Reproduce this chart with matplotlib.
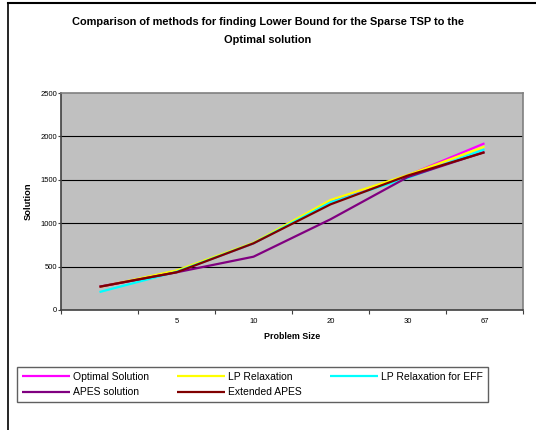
import numpy as np
import matplotlib
matplotlib.use("Agg")
import matplotlib.pyplot as plt
from matplotlib.lines import Line2D

plt.rcParams['font.family'] = ['Liberation Sans', 'DejaVu Sans']

# data
sizes = ["", "5", "10", "20", "30", "67"]
optimal = [268, 440, 768, 1250, 1550, 1920]
lp_relax = [265, 455, 775, 1267, 1555, 1882]
lp_eff = [207, 440, 768, 1240, 1520, 1851]
apes = [268, 434, 614, 1045, 1530, 1820]
ext_apes = [268, 434, 768, 1217, 1548, 1816]

series = [
    ("Optimal Solution", optimal, "#FF00FF"),
    ("LP Relaxation", lp_relax, "#FFFF00"),
    ("LP Relaxation for EFF", lp_eff, "#00FFFF"),
    ("APES solution", apes, "#800080"),
    ("Extended APES", ext_apes, "#800000"),
]

W, H = 536, 430
fig = plt.figure(figsize=(W / 100, H / 100), dpi=100)
ax = fig.add_axes([61 / W, (H - 310) / H, 462 / W, 217 / H])
ax.set_facecolor("#C0C0C0")

x = np.arange(len(sizes))
lines = []
for name, vals, col in series:
    ln, = ax.plot(x, vals, color=col, lw=1.6, label=name, solid_capstyle="butt")
    lines.append(ln)

ax.set_xlim(-0.5, len(sizes) - 0.5)
ax.set_ylim(0, 2500)
ax.set_yticks([0, 500, 1000, 1500, 2000, 2500])
ax.set_yticklabels(["0", "500", "1000", "1500", "2000", "2500"], fontsize=5.5)
for yv in [500, 1000, 1500, 2000]:
    ax.axhline(yv, color="black", lw=0.8, zorder=0.5)

# category boundaries as major ticks, labels at the centres
ax.set_xticks(np.arange(-0.5, len(sizes), 1.0))
ax.set_xticklabels([])
ax.set_xticks(x, minor=True)
ax.set_xticklabels(sizes, minor=True, fontsize=5.5)
ax.tick_params(axis="x", which="major", length=3, width=0.8, color="#404040")
ax.tick_params(axis="x", which="minor", length=0, pad=6)
ax.tick_params(axis="y", length=2, width=0.8, color="#404040", pad=1)

for s in ["top", "right"]:
    ax.spines[s].set_color("#808080")
    ax.spines[s].set_linewidth(1.2)
for s in ["left", "bottom"]:
    ax.spines[s].set_color("#404040")
    ax.spines[s].set_linewidth(1.2)

ax.set_xlabel("Problem Size", fontsize=6.4, fontweight="bold", labelpad=5)
ax.set_ylabel("Solution", fontsize=6.7, fontweight="bold", labelpad=5)

fig.text(0.5, 1 - 22 / H, "Comparison of methods for finding Lower Bound for the Sparse TSP to the",
         ha="center", va="center", fontsize=7.9, fontweight="bold")
fig.text(0.5, 1 - 40 / H, "Optimal solution",
         ha="center", va="center", fontsize=7.9, fontweight="bold")

# legend fills column-wise; reorder so rows read like the original
order = [0, 3, 1, 4, 2]
leg = fig.legend([lines[i] for i in order], [series[i][0] for i in order],
                 loc="lower left", ncol=3, mode="expand",
                 bbox_to_anchor=(17 / W, (H - 402) / H, 471 / W, 41 / H),
                 fontsize=7.5, handlelength=4.6, handletextpad=0.3,
                 borderaxespad=0, fancybox=False, framealpha=1,
                 edgecolor="#606060", labelspacing=0.5, borderpad=0.45)
leg.get_frame().set_linewidth(1.0)

# outer chart border (top and left visible)
fig.add_artist(Line2D([8 / W, 1], [1 - 3 / H, 1 - 3 / H], color="black", lw=1.5))
fig.add_artist(Line2D([8 / W, 8 / W], [0, 1 - 3 / H], color="black", lw=1.2))

fig.savefig("out.png", dpi=100)
